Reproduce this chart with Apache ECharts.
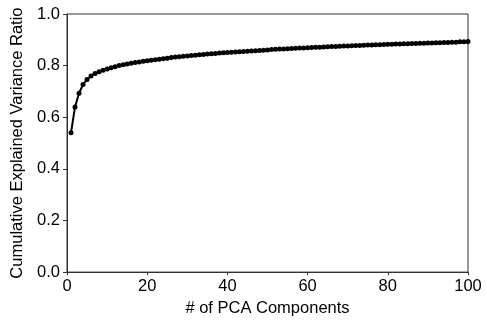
<!DOCTYPE html>
<html>
<head>
<meta charset="utf-8">
<script src="https://cdn.jsdelivr.net/npm/echarts@6/dist/echarts.min.js"></script>
<style>
  html, body { margin: 0; padding: 0; background: #fff; }
  #chart { width: 487px; height: 322px; }
</style>
</head>
<body>
<div id="chart"></div>
<script>
// cumulative explained variance ratio for components 1..100
const ratio = [
  0.540, 0.640, 0.693, 0.727, 0.746, 0.760, 0.769, 0.776, 0.782, 0.787,
  0.792, 0.796, 0.800, 0.803, 0.806, 0.809, 0.812, 0.814, 0.817, 0.819,
  0.821, 0.823, 0.825, 0.827, 0.829, 0.831, 0.833, 0.834, 0.836, 0.837,
  0.839, 0.840, 0.842, 0.843, 0.845, 0.846, 0.847, 0.849, 0.850, 0.851,
  0.852, 0.853, 0.854, 0.855, 0.856, 0.857, 0.858, 0.859, 0.860, 0.861,
  0.862, 0.863, 0.864, 0.864, 0.865, 0.866, 0.867, 0.868, 0.868, 0.869,
  0.870, 0.871, 0.871, 0.872, 0.873, 0.874, 0.874, 0.875, 0.876, 0.876,
  0.877, 0.878, 0.878, 0.879, 0.880, 0.880, 0.881, 0.881, 0.882, 0.883,
  0.883, 0.884, 0.884, 0.885, 0.885, 0.886, 0.886, 0.887, 0.887, 0.888,
  0.888, 0.889, 0.889, 0.890, 0.890, 0.891, 0.891, 0.892, 0.892, 0.893
]
const xTicks = [0, 20, 40, 60, 80, 100]
const yTicks = [0, 0.2, 0.4, 0.6, 0.8, 1.0]

const points = ratio.map((v, i) => [i + 1, v])

const font = "'Liberation Sans', Arial, sans-serif"
const fs = 16.5
const chart = echarts.init(document.getElementById("chart"))

chart.setOption({
  animation: false,
  grid: {
    left: 67,
    right: 19,
    top: 14,
    bottom: 48,
    show: true,
    borderColor: "#333",
    borderWidth: 1,
  },
  xAxis: {
    type: "value",
    min: xTicks[0],
    max: xTicks[xTicks.length - 1],
    interval: 20,
    name: "# of PCA Components",
    nameLocation: "middle",
    nameGap: 27,
    nameTextStyle: { fontFamily: font, fontSize: fs, color: "#000" },
    axisLine: { show: true, lineStyle: { color: "#333", width: 1 } },
    axisTick: { show: true, length: 3, lineStyle: { color: "#333" } },
    axisLabel: { fontFamily: font, fontSize: fs, color: "#000", margin: 6 },
    splitLine: { show: false },
  },
  yAxis: {
    type: "value",
    min: yTicks[0],
    max: yTicks[yTicks.length - 1],
    interval: 0.2,
    name: "Cumulative Explained Variance Ratio",
    nameLocation: "middle",
    nameGap: 38,
    nameTextStyle: { fontFamily: font, fontSize: fs, color: "#000" },
    axisLine: { show: true, lineStyle: { color: "#333", width: 1 } },
    axisTick: { show: true, length: 4, lineStyle: { color: "#333" } },
    axisLabel: {
      fontFamily: font,
      fontSize: fs,
      color: "#000",
      margin: 7,
      formatter: (v) => v.toFixed(1),
    },
    splitLine: { show: false },
  },
  series: [
    {
      type: "line",
      data: points,
      symbol: "circle",
      symbolSize: 5,
      showAllSymbol: true,
      itemStyle: { color: "#000" },
      lineStyle: { color: "#000", width: 2 },
    },
  ],
})
</script>
</body>
</html>
